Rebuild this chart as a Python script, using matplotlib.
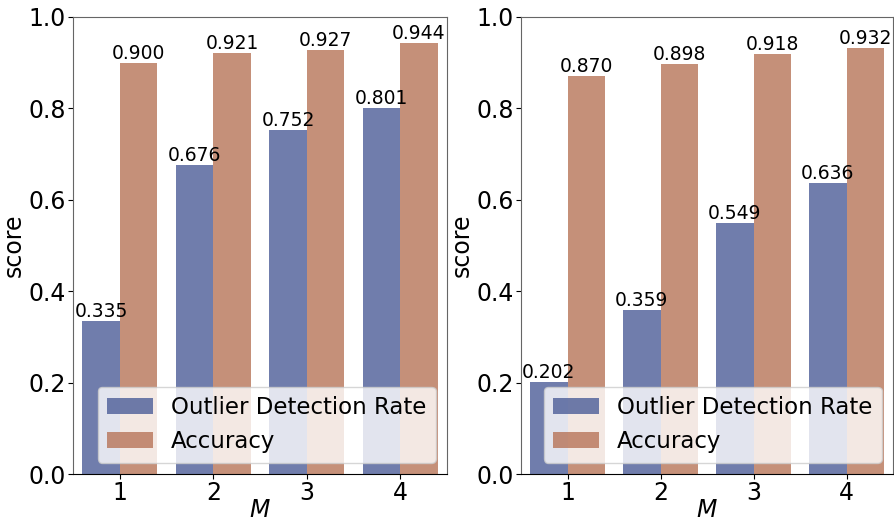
import numpy as np
import matplotlib
matplotlib.use("Agg")
import matplotlib.pyplot as plt

m_values = [1, 2, 3, 4]
odr_left = [0.335, 0.676, 0.752, 0.801]
acc_left = [0.900, 0.921, 0.927, 0.944]
odr_right = [0.202, 0.359, 0.549, 0.636]
acc_right = [0.870, 0.898, 0.918, 0.932]

blue = "#4c5d98"
brown = "#b77458"

fig = plt.figure(figsize=(8.94, 5.23), dpi=100)
W, H = 894, 523
ax1 = fig.add_axes([73 / W, 1 - 474 / H, 374 / W, 457 / H])
ax2 = fig.add_axes([521 / W, 1 - 474 / H, 372 / W, 457 / H])


def draw(ax, odr, acc):
    x = np.array(m_values)
    w = 0.4
    b1 = ax.bar(x - w / 2, odr, w, color=blue, alpha=0.8, label="Outlier Detection Rate")
    b2 = ax.bar(x + w / 2, acc, w, color=brown, alpha=0.8, label="Accuracy")
    for bars in (b1, b2):
        for r in bars:
            ax.text(r.get_x() + r.get_width() / 2, r.get_height(), f"{r.get_height():.3f}",
                    ha="center", va="bottom", fontsize=13.5)
    ax.set_xlim(0.5, 4.5)
    ax.set_ylim(0, 1.0)
    ax.set_xticks(m_values)
    ax.set_yticks(np.arange(0, 1.01, 0.2))
    ax.tick_params(labelsize=17, pad=1.5)
    ax.set_xlabel("$M$", fontsize=17, labelpad=-5)
    ax.set_ylabel("score", fontsize=17, labelpad=2)
    for s in ("top", "right", "left"):
        ax.spines[s].set_color("#666666")
    ax.spines["bottom"].set_color("black")
    leg = ax.legend(loc="lower right", fontsize=16.5, framealpha=0.8)
    leg.get_frame().set_edgecolor("#cccccc")


draw(ax1, odr_left, acc_left)
draw(ax2, odr_right, acc_right)

fig.savefig("out.png", dpi=100)
